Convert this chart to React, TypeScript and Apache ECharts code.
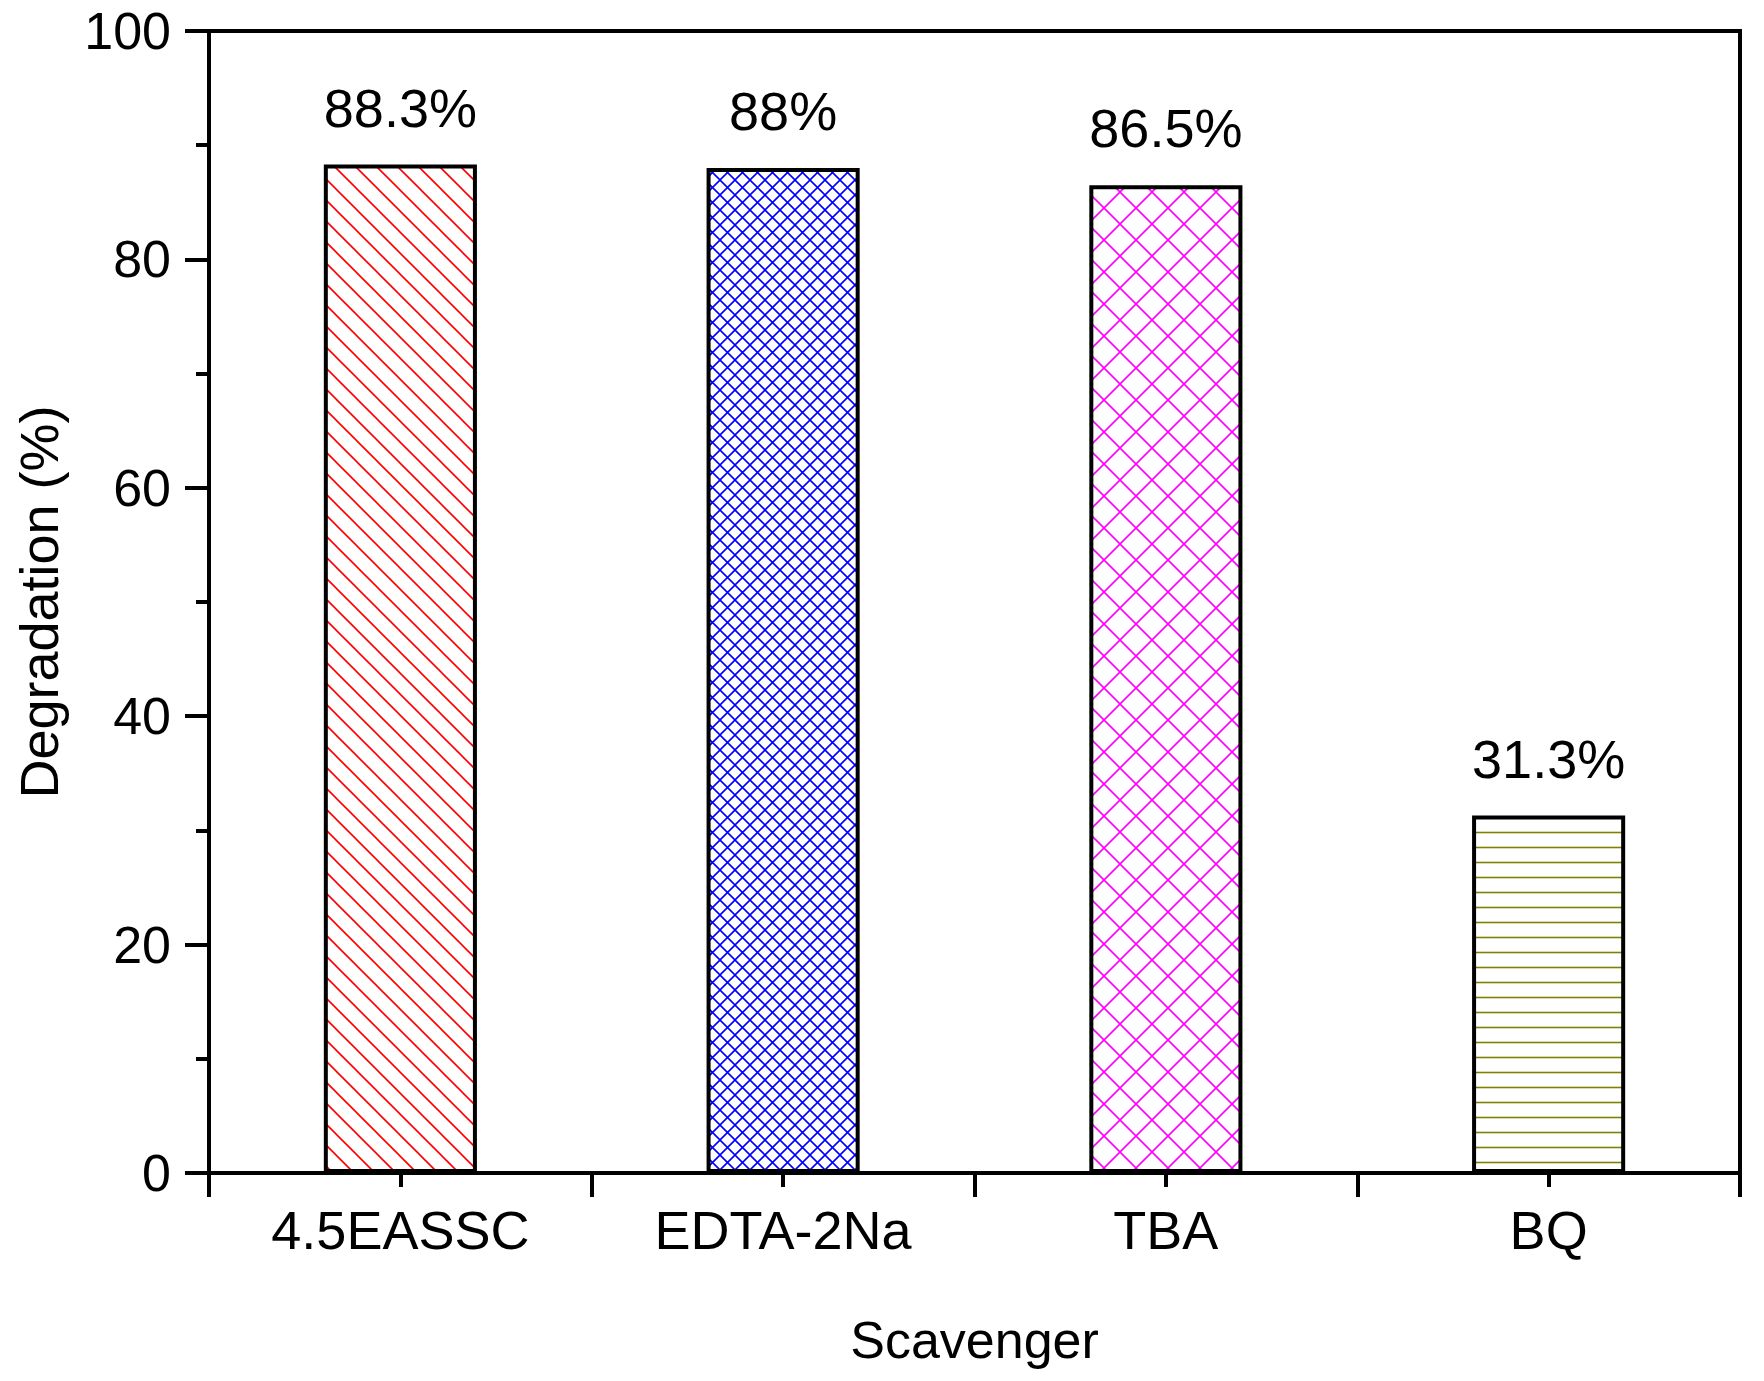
import React, { useEffect, useRef } from 'react';
import * as echarts from 'echarts';

const categories = ['4.5EASSC', 'EDTA-2Na', 'TBA', 'BQ'];
const degradation = [88.3, 88, 86.5, 31.3];
const yMin = 0;
const yMax = 100;
const yInterval = 20;
const patternKinds = ['backslash', 'crossFine', 'crossCoarse', 'horizontal'];
const patternColors = ['#FF0000', '#0000FF', '#FF00FF', '#808000'];

const FONT = "'Liberation Sans', Arial, sans-serif";

function makePattern(kind: string, color: string) {
  const s =
    kind === 'backslash' ? 21 : kind === 'crossFine' ? 15 : kind === 'crossCoarse' ? 32 : 15;
  const c = document.createElement('canvas');
  c.width = s;
  c.height = s;
  const ctx = c.getContext('2d') as CanvasRenderingContext2D;
  ctx.fillStyle = '#ffffff';
  ctx.fillRect(0, 0, s, s);
  ctx.strokeStyle = color;
  ctx.lineWidth = 1.6;
  ctx.beginPath();
  const back = () => {
    for (const k of [-1, 0, 1]) {
      ctx.moveTo(-s, -s + k * s);
      ctx.lineTo(2 * s, 2 * s + k * s);
    }
  };
  const fwd = () => {
    for (const k of [0, 1, 2]) {
      ctx.moveTo(-s, s + k * s);
      ctx.lineTo(2 * s, -2 * s + k * s);
    }
  };
  if (kind === 'backslash') back();
  else if (kind === 'crossFine' || kind === 'crossCoarse') {
    back();
    fwd();
  } else {
    ctx.moveTo(0, s / 2);
    ctx.lineTo(s, s / 2);
  }
  ctx.stroke();
  return { image: c.toDataURL(), repeat: 'repeat', imageWidth: s, imageHeight: s };
}

export default function App() {
  const ref = useRef<HTMLDivElement>(null);
  useEffect(() => {
    document.body.style.margin = '0';
    document.body.style.overflow = 'hidden';
    if (!ref.current) return;
    const chart = echarts.init(ref.current, null, { renderer: 'svg' });
    const data = degradation.map((v, i) => ({
      value: v,
      itemStyle: {
        color: makePattern(patternKinds[i], patternColors[i]) as any,
        borderColor: '#000',
        borderWidth: 4,
      },
    }));
    chart.setOption({
      animation: false,
      backgroundColor: '#ffffff',
      grid: {
        left: 209,
        right: 24,
        top: 31,
        bottom: 208,
        show: true,
        borderColor: '#000',
        borderWidth: 4,
        backgroundColor: 'transparent',
        containLabel: false,
        outerBoundsMode: 'none',
      },
      xAxis: [
        {
          type: 'category',
          data: categories,
          position: 'bottom',
          name: 'Scavenger',
          nameLocation: 'middle',
          nameGap: 141,
          nameTextStyle: { fontSize: 52, color: '#000', fontFamily: FONT },
          axisLine: { show: true, lineStyle: { color: '#000', width: 4 } },
          axisTick: { show: true, length: 24, lineStyle: { color: '#000', width: 4 } },
          axisLabel: { fontSize: 54, color: '#000', fontFamily: FONT, margin: 30 },
          splitLine: { show: false },
        },
        {
          type: 'category',
          data: categories,
          position: 'top',
          axisLine: { show: false, onZero: true, onZeroAxisIndex: 0 },
          axisTick: {
            show: true,
            inside: true,
            alignWithLabel: true,
            length: 14,
            lineStyle: { color: '#000', width: 4 },
          },
          axisLabel: { show: false },
          splitLine: { show: false },
        },
      ],
      yAxis: {
        type: 'value',
        min: yMin,
        max: yMax,
        interval: yInterval,
        name: 'Degradation (%)',
        nameLocation: 'middle',
        nameGap: 143,
        nameTextStyle: { fontSize: 54, color: '#000', fontFamily: FONT },
        axisLine: { show: true, lineStyle: { color: '#000', width: 4 } },
        axisTick: { show: true, length: 24, lineStyle: { color: '#000', width: 4 } },
        minorTick: { show: true, splitNumber: 2, length: 13, lineStyle: { color: '#000', width: 4 } },
        axisLabel: { fontSize: 52, color: '#000', fontFamily: FONT, margin: 38 },
        splitLine: { show: false },
        minorSplitLine: { show: false },
      },
      series: [
        {
          type: 'bar',
          xAxisIndex: 0,
          yAxisIndex: 0,
          barWidth: '40%',
          data,
          label: {
            show: true,
            position: 'top',
            distance: 30,
            formatter: '{c}%',
            fontSize: 54,
            color: '#000',
            fontFamily: FONT,
          },
        },
      ],
    });
    return () => chart.dispose();
  }, []);
  return <div ref={ref} style={{ width: 1764, height: 1381 }} />;
}
